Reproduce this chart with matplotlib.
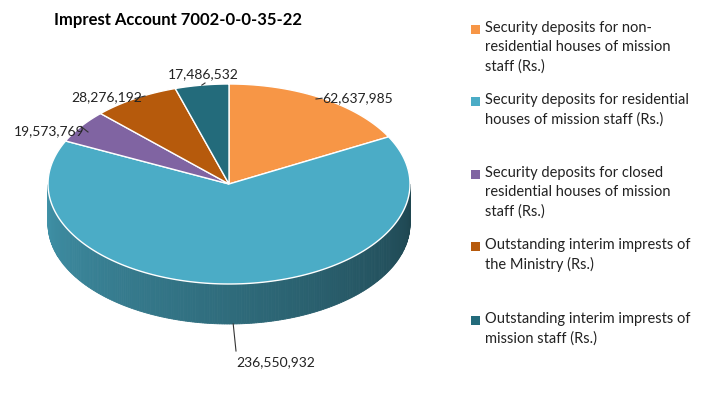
import numpy as np
import matplotlib.pyplot as plt
from matplotlib.patches import Polygon, Rectangle
from matplotlib.colors import to_rgb

plt.rcParams['font.family'] = ['Lato', 'DejaVu Sans']

# data
labels = ["Security deposits for non-\nresidential houses of mission\nstaff (Rs.)",
          "Security deposits for residential\nhouses of mission staff (Rs.)",
          "Security deposits for closed\nresidential houses of mission\nstaff (Rs.)",
          "Outstanding interim imprests of\nthe Ministry (Rs.)",
          "Outstanding interim imprests of\nmission staff (Rs.)"]
values = [62637985, 236550932, 19573769, 28276192, 17486532]
colors = ["#F79646", "#4BACC6", "#8064A2", "#B65A0C", "#236B7B"]

# value text positions and leader line end points (px)
lab_pos = [(322, 98, 'left', 'center'), (236, 362, 'left', 'center'),
           (84, 131, 'right', 'center'), (142, 97, 'right', 'center'),
           (203, 74, 'center', 'center')]
lab_anchor = [(316, 100), (236, 352), (88, 133), (145, 97), (205, 84)]
legend_y = [26, 98, 171, 243, 317]

W, H = 713, 414
fig = plt.figure(figsize=(W / 100, H / 100), dpi=100)
ax = fig.add_axes([0, 0, 1, 1])
ax.set_xlim(0, W)
ax.set_ylim(H, 0)
ax.axis('off')

cx, cy, rx, ry, depth = 229, 185, 181, 100, 40


def pt(theta, dy=0):
    t = np.radians(theta)
    return cx + rx * np.cos(t), cy - ry * np.sin(t) + dy


total = sum(values)
starts, ends = [], []
a = 90.0
for v in values:
    starts.append(a)
    a -= 360.0 * v / total
    ends.append(a)

# side walls (front half)
for s, e, c in zip(starts, ends, colors):
    base = np.array(to_rgb(c))
    angs = np.linspace(e, s, 300)
    for a0, a1 in zip(angs[:-1], angs[1:]):
        m = (a0 + a1) / 2 % 360
        if 180 <= m <= 360:
            f = 0.85 - 0.45 * (m - 180) / 180
            col = np.clip(base * f, 0, 1)
            p0, p1 = pt(a0), pt(a1)
            q1, q0 = pt(a1, depth), pt(a0, depth)
            ax.add_patch(Polygon([p0, p1, q1, q0], closed=True, fc=col,
                                 ec=col, lw=0.6))

# top faces
for s, e, c in zip(starts, ends, colors):
    angs = np.linspace(s, e, 200)
    poly = [(cx, cy)] + [pt(t) for t in angs]
    ax.add_patch(Polygon(poly, closed=True, fc=c, ec='white', lw=1.0))

# value labels with leader lines
for s, e, v, (lx, ly, ha, va), (axx, ayy) in zip(starts, ends, values,
                                                  lab_pos, lab_anchor):
    m = (s + e) / 2
    px, py = pt(m)
    if m % 360 > 180:
        py += depth
    ax.text(lx, ly, f"{v:,}", ha=ha, va=va, fontsize=10, color='#222222')
    ax.plot([px, axx], [py, ayy], color='#333333', lw=0.8)

ax.text(178, 20, "Imprest Account 7002-0-0-35-22",
        ha='center', va='center', fontsize=12, fontweight='bold')

for lab, c, y in zip(labels, colors, legend_y):
    ax.add_patch(Rectangle((471, y), 9, 9, fc=c, ec='none'))
    ax.text(485, y - 5, lab, ha='left', va='top', fontsize=10.5,
            linespacing=1.45, color='#222222')

fig.savefig("out.png", dpi=100)
